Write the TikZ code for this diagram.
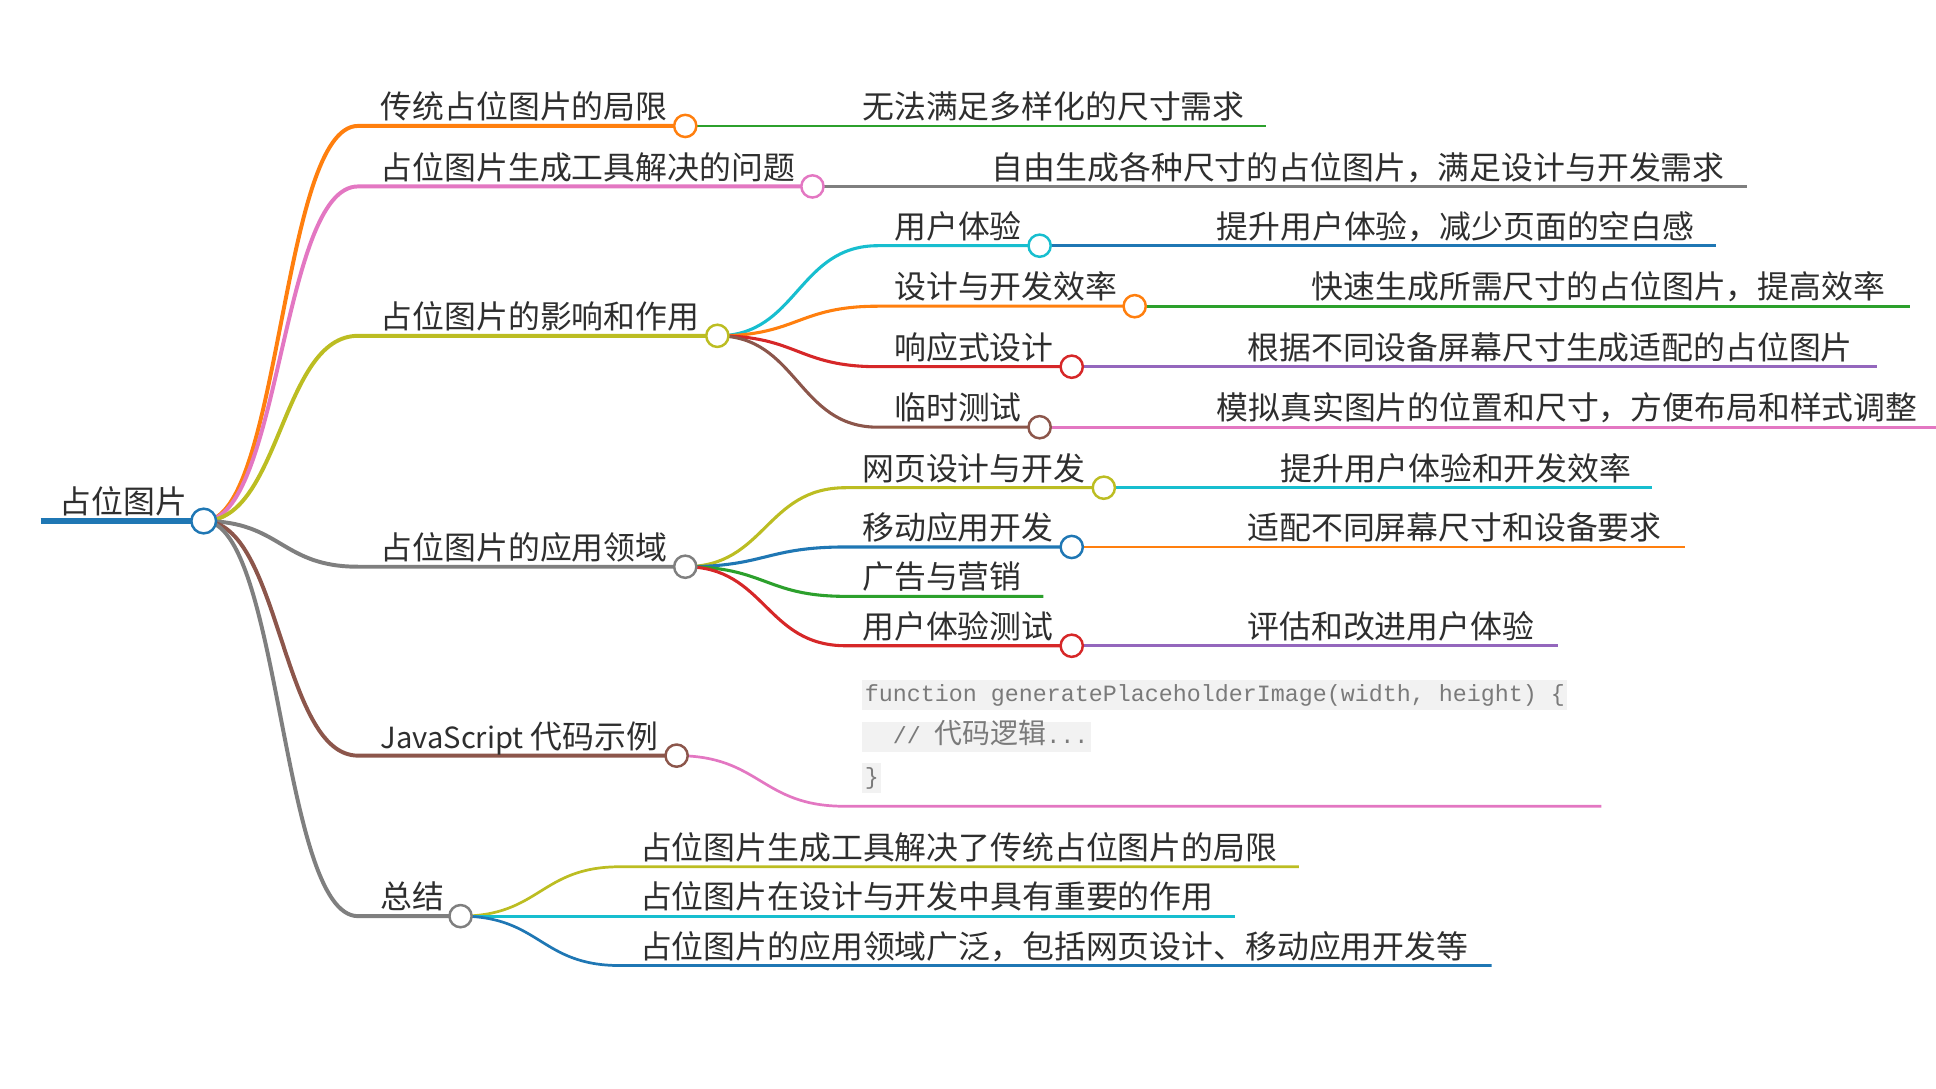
\documentclass[tikz,border=0pt]{standalone}
\usepackage{fontspec}
\newfontfamily\cjk{Noto Sans CJK SC}
\newfontfamily\codefont{Liberation Mono}
\usetikzlibrary{calc,backgrounds}
\definecolor{mmblue}{HTML}{1F77B4}
\definecolor{mmorange}{HTML}{FF7F0E}
\definecolor{mmgreen}{HTML}{2CA02C}
\definecolor{mmred}{HTML}{D62728}
\definecolor{mmpurple}{HTML}{9467BD}
\definecolor{mmbrown}{HTML}{8C564B}
\definecolor{mmpink}{HTML}{E377C2}
\definecolor{mmgrey}{HTML}{7F7F7F}
\definecolor{mmolive}{HTML}{BCBD22}
\definecolor{mmcyan}{HTML}{17BECF}
\definecolor{codebg}{HTML}{F2F2F2}
\definecolor{codefg}{HTML}{7A7A7A}

\begin{document}
\begin{tikzpicture}[
    x=0.5pt, y=-0.5pt,
    lbl/.style={
        anchor=base west,
        inner sep=0,
        font=\cjk\fontsize{12.9pt}{15pt}\selectfont,
        text=black!82
    },
    dot/.style={
        circle,
        draw,
        fill=white,
        line width=1pt,
        minimum size=9pt,
        inner sep=0
    },
    code/.style={
        anchor=west,
        fill=codebg,
        inner xsep=1pt,
        inner ysep=1pt,
        text height=7.5pt,
        text depth=2.5pt,
        text=codefg,
        font=\codefont\fontsize{9.45pt}{11pt}\selectfont
    },
    link/.style={
        to path={let \p1=(\tikztostart), \p2=(\tikztotarget) in
            (\tikztostart) .. controls ({(\x1+\x2)/2},\y1)
            and ({(\x1+\x2)/2},\y2) .. (\tikztotarget)}
    },
    lone/.style={line width=1.6pt},
    ltwo/.style={line width=1.25pt},
    leaf/.style={line width=1.1pt}
]
    \useasboundingbox (0,0) rectangle (1568,882);

    % --- Root ---
    \coordinate (rootL) at (33,422);
    \node[dot, draw=mmblue, minimum size=10pt] (root) at (165,422) {};
    \node[lbl] (rootT) at (48,416) {占位图片};

    % --- 传统占位图片的局限 ---
    \coordinate (aS) at (290,102);
    \node[dot, draw=mmorange] (a) at (555,102) {};
    \node[lbl] (aT) at (308,96) {传统占位图片的局限};
    \coordinate (aE) at (1025,102);
    \node[lbl] (aL) at (698,96) {无法满足多样化的尺寸需求};

    % --- 占位图片生成工具解决的问题 ---
    \coordinate (bS) at (290,151);
    \node[dot, draw=mmpink] (b) at (658,151) {};
    \node[lbl] (bT) at (308,145) {占位图片生成工具解决的问题};
    \coordinate (bE) at (1415,151);
    \node[lbl] (bL) at (803,145) {自由生成各种尺寸的占位图片，满足设计与开发需求};

    % --- 占位图片的影响和作用 ---
    \coordinate (cS) at (290,272);
    \node[dot, draw=mmolive] (c) at (581,272) {};
    \node[lbl] (cT) at (308,266) {占位图片的影响和作用};

    \coordinate (c1S) at (711,199);
    \node[dot, draw=mmcyan] (c1) at (842,199) {};
    \node[lbl] (c1T) at (724,193) {用户体验};
    \coordinate (c1E) at (1390,199);
    \node[lbl] (c1L) at (985,193) {提升用户体验，减少页面的空白感};

    \coordinate (c2S) at (711,248);
    \node[dot, draw=mmorange] (c2) at (919,248) {};
    \node[lbl] (c2T) at (724,242) {设计与开发效率};
    \coordinate (c2E) at (1547,248);
    \node[lbl] (c2L) at (1062,242) {快速生成所需尺寸的占位图片，提高效率};

    \coordinate (c3S) at (711,297);
    \node[dot, draw=mmred] (c3) at (868,297) {};
    \node[lbl] (c3T) at (724,291) {响应式设计};
    \coordinate (c3E) at (1520,297);
    \node[lbl] (c3L) at (1010,291) {根据不同设备屏幕尺寸生成适配的占位图片};

    \coordinate (c4S) at (711,346);
    \node[dot, draw=mmbrown] (c4) at (842,346) {};
    \node[lbl] (c4T) at (724,340) {临时测试};
    \coordinate (c4E) at (1568,346);
    \node[lbl] (c4L) at (985,340) {模拟真实图片的位置和尺寸，方便布局和样式调整};

    % --- 占位图片的应用领域 ---
    \coordinate (dS) at (290,459);
    \node[dot, draw=mmgrey] (d) at (555,459) {};
    \node[lbl] (dT) at (308,453) {占位图片的应用领域};

    \coordinate (d1S) at (685,395);
    \node[dot, draw=mmolive] (d1) at (894,395) {};
    \node[lbl] (d1T) at (698,389) {网页设计与开发};
    \coordinate (d1E) at (1338,395);
    \node[lbl] (d1L) at (1037,389) {提升用户体验和开发效率};

    \coordinate (d2S) at (685,443);
    \node[dot, draw=mmblue] (d2) at (868,443) {};
    \node[lbl] (d2T) at (698,437) {移动应用开发};
    \coordinate (d2E) at (1365,443);
    \node[lbl] (d2L) at (1010,437) {适配不同屏幕尺寸和设备要求};

    \coordinate (d3S) at (685,483);
    \coordinate (d3E) at (845,483);
    \node[lbl] (d3T) at (698,477) {广告与营销};

    \coordinate (d4S) at (685,523);
    \node[dot, draw=mmred] (d4) at (868,523) {};
    \node[lbl] (d4T) at (698,517) {用户体验测试};
    \coordinate (d4E) at (1262,523);
    \node[lbl] (d4L) at (1010,517) {评估和改进用户体验};

    % --- JavaScript 代码示例 ---
    \coordinate (eS) at (290,612);
    \node[dot, draw=mmbrown] (e) at (548,612) {};
    \node[lbl] (eT) at (308,606) {{\fontsize{11.8pt}{15pt}\selectfont JavaScript} 代码示例};
    \coordinate (e1S) at (684,653);
    \coordinate (e1E) at (1297,653);
    \node[code] (code1) at (698,563) {function generatePlaceholderImage(width, height) \{};
    \node[code] (code2) at (698,597) {\hspace*{1.2em}// {\cjk\fontsize{11.3pt}{11pt}\selectfont 代码逻辑}...};
    \node[code] (code3) at (698,630) {\}};

    % --- 总结 ---
    \coordinate (fS) at (290,742);
    \node[dot, draw=mmgrey] (f) at (373,742) {};
    \node[lbl] (fT) at (308,736) {总结};

    \coordinate (f1S) at (502,702);
    \coordinate (f1E) at (1052,702);
    \node[lbl] (f1T) at (518,696) {占位图片生成工具解决了传统占位图片的局限};
    \coordinate (f2S) at (502,742);
    \coordinate (f2E) at (1000,742);
    \node[lbl] (f2T) at (518,736) {占位图片在设计与开发中具有重要的作用};
    \coordinate (f3S) at (502,782);
    \coordinate (f3E) at (1208,782);
    \node[lbl] (f3T) at (518,776) {占位图片的应用领域广泛，包括网页设计、移动应用开发等};

    % connectors
    \begin{scope}[on background layer]
        \draw[mmblue, line width=2.75pt] (rootL) -- (root.center);

        \draw[mmorange, lone] (root.center) to[link] (aS) -- (a.center);
        \draw[mmpink, lone] (root.center) to[link] (bS) -- (b.center);
        \draw[mmolive, lone] (root.center) to[link] (cS) -- (c.center);
        \draw[mmgrey, lone] (root.center) to[link] (dS) -- (d.center);
        \draw[mmbrown, lone] (root.center) to[link] (eS) -- (e.center);
        \draw[mmgrey, lone] (root.center) to[link] (fS) -- (f.center);

        \draw[mmgreen, leaf] (a.center) -- (aE);
        \draw[mmgrey, leaf] (b.center) -- (bE);

        \draw[mmcyan, ltwo] (c.center) to[link] (c1S) -- (c1.center);
        \draw[mmorange, ltwo] (c.center) to[link] (c2S) -- (c2.center);
        \draw[mmred, ltwo] (c.center) to[link] (c3S) -- (c3.center);
        \draw[mmbrown, ltwo] (c.center) to[link] (c4S) -- (c4.center);
        \draw[mmblue, leaf] (c1.center) -- (c1E);
        \draw[mmgreen, leaf] (c2.center) -- (c2E);
        \draw[mmpurple, leaf] (c3.center) -- (c3E);
        \draw[mmpink, leaf] (c4.center) -- (c4E);

        \draw[mmolive, ltwo] (d.center) to[link] (d1S) -- (d1.center);
        \draw[mmblue, ltwo] (d.center) to[link] (d2S) -- (d2.center);
        \draw[mmgreen, ltwo] (d.center) to[link] (d3S) -- (d3E);
        \draw[mmred, ltwo] (d.center) to[link] (d4S) -- (d4.center);
        \draw[mmcyan, leaf] (d1.center) -- (d1E);
        \draw[mmorange, leaf] (d2.center) -- (d2E);
        \draw[mmpurple, leaf] (d4.center) -- (d4E);

        \draw[mmpink, leaf] (e.center) to[link] (e1S) -- (e1E);

        \draw[mmolive, leaf] (f.center) to[link] (f1S) -- (f1E);
        \draw[mmcyan, leaf] (f.center) to[link] (f2S) -- (f2E);
        \draw[mmblue, leaf] (f.center) to[link] (f3S) -- (f3E);
    \end{scope}
\end{tikzpicture}
\end{document}
